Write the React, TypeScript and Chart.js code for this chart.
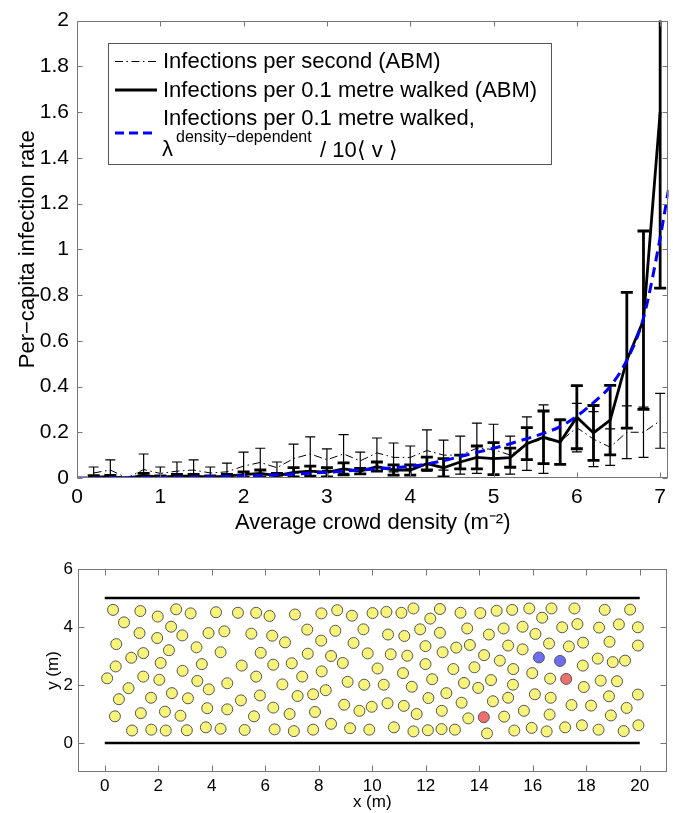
import React, { useEffect, useRef } from "react";
import { Chart, registerables } from "chart.js";

Chart.register(...registerables);

const FONT = "'Liberation Sans', Arial, Helvetica, sans-serif";

// ---------- Top panel data ----------
const densities = [0.2, 0.4, 0.6, 0.8, 1.0, 1.2, 1.4, 1.6, 1.8, 2.0, 2.2, 2.4, 2.6, 2.8, 3.0, 3.2, 3.4, 3.6, 3.8, 4.0, 4.2, 4.4, 4.6, 4.8, 5.0, 5.2, 5.4, 5.6, 5.8, 6.0, 6.2, 6.4, 6.6, 6.8, 7.0];
const perSecondRate = [0.022, 0.035, 0, 0.037, 0.02, 0.03, 0.035, 0.022, 0.027, 0.052, 0.068, 0.045, 0.085, 0.105, 0.08, 0.105, 0.075, 0.11, 0.09, 0.09, 0.12, 0.1, 0.1, 0.13, 0.125, 0.1, 0.15, 0.17, 0.16, 0.22, 0.17, 0.135, 0.2, 0.2, 0.25];
const perSecondErr = [0.026, 0.044, 0, 0.068, 0.028, 0.04, 0.044, 0.026, 0.038, 0.061, 0.062, 0.025, 0.063, 0.075, 0.047, 0.085, 0.038, 0.065, 0.063, 0.05, 0.09, 0.066, 0.083, 0.11, 0.11, 0.083, 0.117, 0.15, 0.097, 0.106, 0.12, 0.08, 0.115, 0.11, 0.12];
const perMetreRate = [0.005, 0.005, 0, 0.01, 0.004, 0.008, 0.008, 0.004, 0.008, 0.015, 0.02, 0.01, 0.025, 0.03, 0.025, 0.04, 0.03, 0.05, 0.035, 0.035, 0.063, 0.045, 0.07, 0.09, 0.085, 0.089, 0.15, 0.178, 0.157, 0.266, 0.197, 0.253, 0.515, 0.69, 1.6];
const perMetreErr = [0.005, 0.006, 0, 0.01, 0.005, 0.008, 0.008, 0.005, 0.008, 0.012, 0.015, 0.01, 0.02, 0.022, 0.02, 0.026, 0.012, 0.02, 0.022, 0.022, 0.028, 0.04, 0.03, 0.05, 0.07, 0.042, 0.07, 0.115, 0.097, 0.138, 0.12, 0.152, 0.297, 0.39, 0.77];
const modelDensity = [0, 0.2, 0.4, 0.6, 0.8, 1.0, 1.2, 1.4, 1.6, 1.8, 2.0, 2.2, 2.4, 2.6, 2.8, 3.0, 3.2, 3.4, 3.6, 3.8, 4.0, 4.2, 4.4, 4.6, 4.8, 5.0, 5.2, 5.4, 5.6, 5.8, 6.0, 6.2, 6.4, 6.6, 6.8, 7.0, 7.1];
const modelRate = [0, 0, 0.001, 0.001, 0.002, 0.002, 0.003, 0.004, 0.005, 0.007, 0.009, 0.011, 0.014, 0.017, 0.021, 0.025, 0.03, 0.035, 0.04, 0.045, 0.051, 0.061, 0.076, 0.094, 0.112, 0.13, 0.15, 0.172, 0.195, 0.225, 0.27, 0.33, 0.4, 0.515, 0.7, 1.05, 1.26];
const topXTicks = [0, 1, 2, 3, 4, 5, 6, 7];
const topXTickLabels = ["0", "1", "2", "3", "4", "5", "6", "7"];
const topYTicks = [0, 0.2, 0.4, 0.6, 0.8, 1, 1.2, 1.4, 1.6, 1.8, 2];
const topYTickLabels = ["0", "0.2", "0.4", "0.6", "0.8", "1", "1.2", "1.4", "1.6", "1.8", "2"];
const legendLabels = [
  "Infections per second (ABM)",
  "Infections per 0.1 metre walked (ABM)",
  "Infections per 0.1 metre walked,",
];

// ---------- Bottom panel data ----------
const susceptiblePositions: [number, number][] = [
  [0.31, 4.59], [0.72, 4.16], [0.43, 3.41], [0.41, 2.64], [0.09, 2.23], [0.89, 1.89], [0.53, 1.51], [0.38, 0.92], [1.02, 0.43],
  [1.33, 4.55], [1.3, 3.79], [0.99, 2.94], [1.44, 3.1], [1.44, 2.29], [1.73, 1.56], [1.35, 1.03], [1.74, 0.46],
  [1.98, 4.36], [1.96, 3.62], [2.4, 3.2], [2.48, 4.01], [2.09, 2.76], [2.04, 2.18], [2.51, 1.72], [2.25, 1.08], [2.28, 0.43],
  [2.67, 4.61], [3.21, 4.47], [2.9, 3.71], [3.43, 3.3], [2.91, 2.49], [3.63, 2.72], [3.46, 2.14], [3.11, 1.54], [2.83, 0.94], [3.07, 0.44],
  [4.16, 4.51], [3.88, 3.79], [4.47, 3.85], [4.33, 3.13], [3.89, 1.85], [4.58, 2.06], [3.83, 1.2], [4.58, 1.16], [3.78, 0.54], [4.33, 0.49],
  [4.98, 4.49], [5.48, 3.77], [5.12, 2.67], [5.09, 1.47], [5.23, 0.45], [5.66, 4.49], [5.83, 3.11], [5.66, 2.29], [5.8, 1.64], [5.58, 0.92],
  [6.16, 4.38], [6.26, 3.7], [6.3, 2.7], [6.64, 2.02], [6.3, 1.22], [6.35, 0.47], [6.74, 3.47], [7.11, 4.43], [6.99, 2.75], [7.38, 2.29],
  [7.21, 1.62], [6.91, 1.0], [7.07, 0.41], [7.57, 3.91], [7.59, 3.08], [7.79, 1.68], [7.86, 1.07], [7.79, 0.46],
  [8.1, 4.47], [8.09, 3.53], [8.11, 2.47], [8.26, 1.82], [8.46, 3.0], [8.62, 3.87], [8.46, 0.66], [8.69, 4.58],
  [8.9, 2.76], [9.08, 2.11], [8.95, 1.32], [9.17, 0.51], [9.24, 4.39], [9.3, 3.45], [9.83, 3.09], [9.67, 3.92], [9.7, 2.01], [9.52, 1.11], [9.89, 0.46],
  [10.01, 4.48], [10.2, 2.57], [9.98, 1.25], [10.53, 4.52], [10.59, 3.74], [10.69, 3.06], [10.43, 2.01], [10.57, 1.37], [10.81, 0.54],
  [11.09, 4.49], [11.2, 3.69], [11.31, 3.01], [11.15, 2.41], [11.48, 1.94], [11.18, 1.28], [11.66, 1.0], [11.54, 0.4],
  [11.54, 4.64], [11.79, 3.92], [11.99, 3.34], [11.99, 2.72], [12.24, 2.2], [12.1, 1.55], [12.08, 0.44], [12.17, 4.29],
  [12.53, 4.62], [12.53, 3.8], [12.63, 3.13], [12.77, 1.72], [12.6, 1.11], [12.59, 0.48], [13.09, 0.46], [13.03, 2.55], [13.14, 3.29],
  [13.3, 4.49], [13.34, 1.39], [13.43, 2.07], [13.55, 3.95], [13.65, 3.38], [13.82, 2.61], [13.59, 0.85], [13.96, 1.9],
  [14.04, 4.48], [14.18, 3.03], [14.36, 3.74], [14.44, 2.17], [14.51, 1.44], [14.29, 0.33], [14.65, 4.56], [14.77, 2.84],
  [14.91, 3.95], [14.93, 0.91], [15.08, 3.36], [15.08, 1.56], [15.23, 4.59], [15.27, 2.55], [15.26, 2.01], [15.31, 0.43],
  [15.62, 4.01], [15.62, 3.23], [15.67, 1.11], [15.87, 4.64], [15.98, 2.41], [16.1, 3.76], [16.08, 1.68], [15.96, 0.52],
  [16.35, 4.32], [16.61, 3.43], [16.65, 2.22], [16.67, 1.56], [16.63, 0.98], [16.52, 0.4], [16.7, 4.64],
  [17.1, 3.99], [17.35, 3.33], [17.45, 1.31], [17.21, 0.54], [17.56, 4.64], [17.67, 4.1], [17.88, 3.46], [17.87, 2.67],
  [17.91, 1.93], [18.18, 1.29], [17.84, 0.61], [18.48, 3.98], [18.43, 2.91], [18.54, 2.15], [18.85, 1.61], [18.87, 3.49],
  [18.69, 4.59], [18.46, 0.46], [18.92, 0.95], [18.99, 2.79], [19.22, 4.09], [19.15, 2.13], [19.45, 2.84], [19.51, 1.21],
  [19.4, 0.41], [19.64, 4.6], [19.93, 3.99], [19.93, 3.36], [19.93, 1.67], [19.95, 0.61],
];
const bluePositions: [number, number][] = [[16.23, 2.95], [17.02, 2.83]];
const redPositions: [number, number][] = [[14.17, 0.89], [17.25, 2.21]];
const wallX = [0, 20];
const lowerWallY = [0, 0];
const upperWallY = [5, 5];
const bottomXTicks = [0, 2, 4, 6, 8, 10, 12, 14, 16, 18, 20];
const bottomXTickLabels = ["0", "2", "4", "6", "8", "10", "12", "14", "16", "18", "20"];
const bottomYTicks = [0, 2, 4, 6];
const bottomYTickLabels = ["0", "2", "4", "6"];

// ---------- plugins ----------
const errorBarPlugin = {
  id: "errorBars",
  afterDatasetDraw(chart: any, args: any) {
    const ds = chart.data.datasets[args.index];
    if (!ds.errors) return;
    const { ctx, chartArea: a, scales } = chart;
    ctx.save();
    ctx.beginPath();
    ctx.rect(a.left, a.top, a.right - a.left, a.bottom - a.top);
    ctx.clip();
    ctx.strokeStyle = ds.errorColor;
    ctx.lineWidth = ds.errorWidth;
    ctx.setLineDash([]);
    ctx.lineCap = "butt";
    const cap = ds.capHalf;
    ds.data.forEach((p: any, i: number) => {
      const e = ds.errors[i];
      if (!e) return;
      const x = scales.x.getPixelForValue(p.x);
      const yT = scales.y.getPixelForValue(p.y + e);
      const yB = scales.y.getPixelForValue(p.y - e);
      ctx.beginPath();
      ctx.moveTo(x, yT);
      ctx.lineTo(x, yB);
      ctx.moveTo(x - cap, yT);
      ctx.lineTo(x + cap, yT);
      ctx.moveTo(x - cap, yB);
      ctx.lineTo(x + cap, yB);
      ctx.stroke();
    });
    ctx.restore();
  },
};

function makeFramePlugin(id: string, xTicks: number[], yTicks: number[], tickLen: number, color: string) {
  return {
    id,
    afterDraw(chart: any) {
      const { ctx, chartArea: a, scales } = chart;
      ctx.save();
      ctx.strokeStyle = color;
      ctx.lineWidth = 1;
      ctx.setLineDash([]);
      const L = Math.round(a.left) + 0.5;
      const R = Math.round(a.right) - 0.5;
      const T = Math.round(a.top) + 0.5;
      const B = Math.round(a.bottom) - 0.5;
      ctx.strokeRect(L, T, R - L, B - T);
      ctx.beginPath();
      xTicks.forEach((v) => {
        const x = Math.round(scales.x.getPixelForValue(v)) + 0.5;
        ctx.moveTo(x, B);
        ctx.lineTo(x, B - tickLen);
        ctx.moveTo(x, T);
        ctx.lineTo(x, T + tickLen);
      });
      yTicks.forEach((v) => {
        const y = Math.round(scales.y.getPixelForValue(v)) + 0.5;
        ctx.moveTo(L, y);
        ctx.lineTo(L + tickLen, y);
        ctx.moveTo(R, y);
        ctx.lineTo(R - tickLen, y);
      });
      ctx.stroke();
      ctx.restore();
    },
  };
}

const legendPlugin = {
  id: "topLegend",
  afterDatasetsDraw(chart: any) {
    const ctx = chart.ctx;
    ctx.save();
    ctx.fillStyle = "#fff";
    ctx.fillRect(108.5, 43.5, 443, 121);
    ctx.strokeStyle = "#555";
    ctx.lineWidth = 1;
    ctx.setLineDash([]);
    ctx.strokeRect(108.5, 43.5, 443, 121);
    // samples
    ctx.strokeStyle = "#000";
    ctx.lineWidth = 1;
    ctx.setLineDash([8, 3.5, 1.5, 3.5]);
    ctx.beginPath();
    ctx.moveTo(115, 61.5);
    ctx.lineTo(157, 61.5);
    ctx.stroke();
    ctx.setLineDash([]);
    ctx.lineWidth = 2.8;
    ctx.beginPath();
    ctx.moveTo(115, 90);
    ctx.lineTo(157, 90);
    ctx.stroke();
    ctx.strokeStyle = "#0000ff";
    ctx.lineWidth = 3;
    ctx.setLineDash([9, 5]);
    ctx.beginPath();
    ctx.moveTo(115, 133);
    ctx.lineTo(157, 133);
    ctx.stroke();
    // texts
    ctx.setLineDash([]);
    ctx.fillStyle = "#000";
    ctx.textBaseline = "alphabetic";
    ctx.textAlign = "left";
    ctx.font = `22px ${FONT}`;
    ctx.fillText(legendLabels[0], 163, 68);
    ctx.fillText(legendLabels[1], 163, 97);
    ctx.fillText(legendLabels[2], 163, 125);
    ctx.fillText("λ", 162, 156);
    ctx.fillText("/ 10⟨ v ⟩", 320, 157);
    ctx.font = `16px ${FONT}`;
    ctx.fillText("density−dependent", 176, 142);
    ctx.restore();
  },
};

const topFrame = makeFramePlugin("topFrame", topXTicks, topYTicks, 5, "#777");
const bottomFrame = makeFramePlugin("bottomFrame", bottomXTicks, bottomYTicks, 6, "#777");

function setTicks(values: number[]) {
  return (scale: any) => {
    scale.ticks = values.map((v) => ({ value: v }));
  };
}

export default function App() {
  const topRef = useRef<HTMLCanvasElement>(null);
  const botRef = useRef<HTMLCanvasElement>(null);

  useEffect(() => {
    const topChart = new Chart(topRef.current as HTMLCanvasElement, {
      type: "line",
      data: {
        datasets: [
          {
            label: "model",
            data: modelDensity.map((x, i) => ({ x, y: modelRate[i] })),
            borderColor: "#0000ff",
            borderWidth: 3,
            borderDash: [10, 6],
            pointRadius: 0,
            fill: false,
            cubicInterpolationMode: "monotone",
            order: 0,
          } as any,
          {
            label: "perMetre",
            data: densities.map((x, i) => ({ x, y: perMetreRate[i] })),
            borderColor: "#000",
            borderWidth: 2.8,
            pointRadius: 0,
            tension: 0,
            fill: false,
            errors: perMetreErr,
            errorColor: "#000",
            errorWidth: 2.8,
            capHalf: 6,
            order: 1,
          } as any,
          {
            label: "perSecond",
            data: densities.map((x, i) => ({ x, y: perSecondRate[i] })),
            borderColor: "#000",
            borderWidth: 1,
            borderDash: [8, 3.5, 1.5, 3.5],
            pointRadius: 0,
            tension: 0,
            fill: false,
            errors: perSecondErr,
            errorColor: "#000",
            errorWidth: 1.2,
            capHalf: 5,
            order: 2,
          } as any,
        ],
      },
      options: {
        animation: false,
        responsive: false,
        devicePixelRatio: 1,
        layout: { padding: { top: 20, right: 1, bottom: 0, left: 0 } },
        plugins: { legend: { display: false }, tooltip: { enabled: false } },
        scales: {
          x: {
            type: "linear",
            min: 0,
            max: 7.1,
            afterFit: (s: any) => {
              s.height = 67;
            },
            afterBuildTicks: setTicks(topXTicks),
            grid: { display: false, drawTicks: false },
            border: { display: false },
            ticks: {
              autoSkip: false,
              maxRotation: 0,
              padding: 7,
              color: "#000",
              font: { family: FONT, size: 21 },
              callback: (_v: any, i: number) => topXTickLabels[i],
            },
            title: {
              display: true,
              text: "Average crowd density (m⁻²)",
              color: "#000",
              font: { family: FONT, size: 22 },
              padding: { top: 0, bottom: 9 },
            },
          },
          y: {
            type: "linear",
            min: 0,
            max: 2,
            afterFit: (s: any) => {
              s.width = 77;
            },
            afterBuildTicks: setTicks(topYTicks),
            grid: { display: false, drawTicks: false },
            border: { display: false },
            ticks: {
              autoSkip: false,
              padding: 8,
              color: "#000",
              font: { family: FONT, size: 21 },
              callback: (_v: any, i: number) => topYTickLabels[i],
            },
            title: {
              display: true,
              text: "Per−capita infection rate",
              color: "#000",
              font: { family: FONT, size: 22 },
              padding: { top: 15, bottom: 0 },
            },
          },
        },
      } as any,
      plugins: [errorBarPlugin, legendPlugin, topFrame],
    });

    const pointStyle = (fill: string) => ({
      backgroundColor: fill,
      borderColor: "#555",
      borderWidth: 1,
      pointRadius: 5.5,
      pointHoverRadius: 5.5,
      showLine: false,
    });

    const botChart = new Chart(botRef.current as HTMLCanvasElement, {
      type: "scatter",
      data: {
        datasets: [
          {
            label: "lower wall",
            data: wallX.map((x, i) => ({ x, y: lowerWallY[i] })),
            showLine: true,
            borderColor: "#000",
            borderWidth: 2.5,
            pointRadius: 0,
          } as any,
          {
            label: "upper wall",
            data: wallX.map((x, i) => ({ x, y: upperWallY[i] })),
            showLine: true,
            borderColor: "#000",
            borderWidth: 2.5,
            pointRadius: 0,
          } as any,
          {
            label: "susceptible",
            data: susceptiblePositions.map(([x, y]) => ({ x, y })),
            ...pointStyle("#f8f47a"),
          } as any,
          {
            label: "blue",
            data: bluePositions.map(([x, y]) => ({ x, y })),
            ...pointStyle("#6e6ef2"),
          } as any,
          {
            label: "red",
            data: redPositions.map(([x, y]) => ({ x, y })),
            ...pointStyle("#f06e6e"),
          } as any,
        ],
      },
      options: {
        animation: false,
        responsive: false,
        devicePixelRatio: 1,
        layout: { padding: { top: 24, right: 0, bottom: 0, left: 0 } },
        plugins: { legend: { display: false }, tooltip: { enabled: false } },
        scales: {
          x: {
            type: "linear",
            min: -1,
            max: 21,
            afterFit: (s: any) => {
              s.height = 41;
            },
            afterBuildTicks: setTicks(bottomXTicks),
            grid: { display: false, drawTicks: false },
            border: { display: false },
            ticks: {
              autoSkip: false,
              maxRotation: 0,
              padding: 4,
              color: "#000",
              font: { family: FONT, size: 17 },
              callback: (_v: any, i: number) => bottomXTickLabels[i],
            },
            title: {
              display: true,
              text: "x (m)",
              color: "#000",
              font: { family: FONT, size: 17 },
              padding: { top: 0, bottom: 0 },
            },
          },
          y: {
            type: "linear",
            min: -1,
            max: 6,
            afterFit: (s: any) => {
              s.width = 78;
            },
            afterBuildTicks: setTicks(bottomYTicks),
            grid: { display: false, drawTicks: false },
            border: { display: false },
            ticks: {
              autoSkip: false,
              padding: 5,
              color: "#000",
              font: { family: FONT, size: 17 },
              callback: (_v: any, i: number) => bottomYTickLabels[i],
            },
            title: {
              display: true,
              text: "y (m)",
              color: "#000",
              font: { family: FONT, size: 17 },
              padding: { top: 43, bottom: 0 },
            },
          },
        },
      } as any,
      plugins: [bottomFrame],
    });

    return () => {
      topChart.destroy();
      botChart.destroy();
    };
  }, []);

  return (
    <div style={{ position: "absolute", left: 0, top: 0, width: 673, height: 813, background: "#fff", overflow: "hidden" }}>
      <canvas ref={topRef} width={673} height={545} style={{ position: "absolute", left: 0, top: 0 }} />
      <canvas ref={botRef} width={673} height={268} style={{ position: "absolute", left: 0, top: 545 }} />
    </div>
  );
}
